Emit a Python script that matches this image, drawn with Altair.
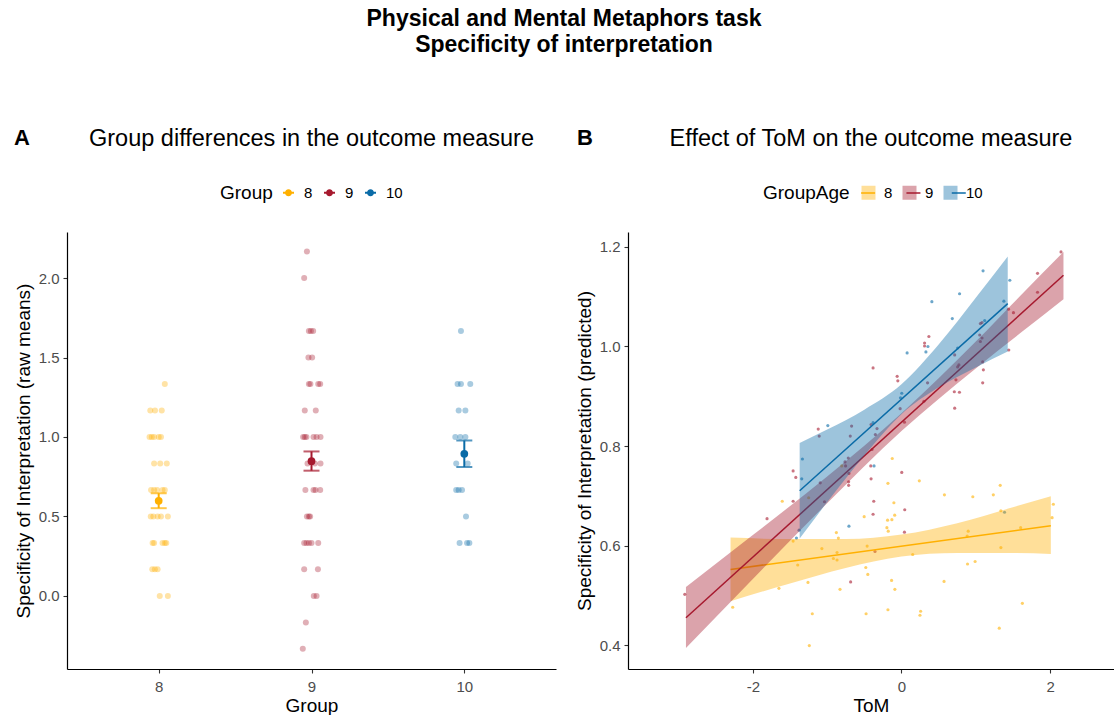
import altair as alt
import pandas as pd

FONT = "Liberation Sans"

# ---------------- shared group definitions ----------------
groups = ["8", "9", "10"]
group_colors = ["#FFB000", "#A6192E", "#0A6BA7"]

# ---------------- Panel A: raw scores (with horizontal jitter) ----------------
g8_scores = [1.333,
             1.167, 1.167, 1.167,
             1.0, 1.0, 1.0, 1.0, 1.0,
             0.833, 0.833, 0.833,
             0.667, 0.667, 0.667, 0.667, 0.667,
             0.5, 0.5, 0.5, 0.5, 0.5,
             0.333, 0.333, 0.333, 0.333, 0.333,
             0.167, 0.167, 0.167,
             0.0, 0.0]
g8_jitter = [0.04,
             -0.055, -0.024, 0.02,
             -0.06, -0.045, -0.03, 0.0, 0.015,
             -0.03, 0.01, 0.053,
             -0.05, -0.03, -0.01, 0.025, 0.04,
             -0.052, -0.035, -0.007, 0.015, 0.06,
             -0.04, -0.03, 0.025, 0.04, 0.05,
             -0.042, -0.025, -0.007,
             0.007, 0.06]

g9_scores = [2.167, 2.0,
             1.667, 1.667, 1.667,
             1.5, 1.5,
             1.333, 1.333, 1.333, 1.333,
             1.167, 1.167,
             1.0, 1.0, 1.0, 1.0, 1.0, 1.0,
             0.833, 0.833, 0.833,
             0.667, 0.667, 0.667, 0.667,
             0.5, 0.5, 0.5,
             0.333, 0.333, 0.333, 0.333, 0.333,
             0.167, 0.167,
             0.0, 0.0,
             -0.167, -0.333]
g9_jitter = [-0.03, -0.048,
             -0.017, -0.004, 0.011,
             -0.02, 0.004,
             -0.017, -0.007, 0.044, 0.057,
             -0.044, 0.028,
             -0.055, -0.044, -0.033, 0.013, 0.033, 0.059,
             -0.026, 0.022, 0.059,
             -0.04, 0.013, 0.026, 0.057,
             -0.03, -0.017, -0.009,
             -0.048, -0.033, -0.017, 0.0, 0.044,
             -0.048, 0.042,
             0.015, 0.033,
             -0.037, -0.057]

g10_scores = [1.667,
              1.333, 1.333, 1.333,
              1.167, 1.167,
              1.0, 1.0, 1.0,
              0.833, 0.833,
              0.667, 0.667, 0.667,
              0.5,
              0.333, 0.333, 0.333]
g10_jitter = [-0.022,
              -0.044, -0.022, 0.039,
              -0.037, 0.007,
              -0.059, -0.026, 0.007,
              -0.053, 0.022,
              -0.053, -0.037, -0.015,
              0.011,
              -0.031, 0.018, 0.033]

group_means = [0.598, 0.848, 0.894]
se_low = [0.552, 0.788, 0.811]
se_high = [0.646, 0.909, 0.978]

# ---------------- Panel B: ToM vs predicted specificity ----------------
tom8 = [-2.271, -1.604, -1.649, -1.258, -1.200, -1.240, -0.876, -0.849, -0.867,
        -0.916, -0.867, -0.827, -0.502, -0.462, -0.480, -0.453, -0.476, -0.182,
        -0.187, -0.196, -0.178, -0.182, -1.249, -1.458, -1.396, -1.071, -0.804,
        -0.124, 0.240, -0.102, -0.091, -0.129, 0.578, 0.960, 1.236, 1.329,
        1.338, 2.044, 2.027, 0.898, 0.884, 1.604, 1.338, 0.151, 0.889, 0.991,
        -0.133, -0.089, 0.573, 0.258, 0.249, 1.627, 1.316]
spec8 = [0.476, 0.689, 0.514, 0.526, 0.463, 0.399, 0.626, 0.615, 0.586,
         0.574, 0.571, 0.512, 0.658, 0.599, 0.556, 0.542, 0.463, 0.725,
         0.651, 0.636, 0.629, 0.471, 0.696, 0.609, 0.561, 0.594, 0.760,
         0.775, 0.730, 0.686, 0.661, 0.652, 0.702, 0.698, 0.702, 0.721,
         0.670, 0.683, 0.656, 0.629, 0.619, 0.636, 0.596, 0.582, 0.563, 0.568,
         0.530, 0.512, 0.528, 0.468, 0.460, 0.484, 0.434]

tom9 = [-2.916, -1.809, -1.458, -1.422, -1.458, -1.093, -1.036, -0.760, -0.752,
        -0.716, -0.707, -0.711, -0.711, -0.396, -0.413, -0.409, -0.373, -0.382,
        -0.684, -0.356, 0.004, 0.044, 0.040, -0.382, -1.120, -1.107, -0.671,
        -0.689, -0.409, -0.329, -0.351, 2.147, 1.831, 1.831, 1.440, 1.507,
        1.444, 0.369, 0.311, 0.311, 1.084, 1.062, 1.053, 1.084, 1.062, 0.716,
        0.773, 0.756, 1.093, 1.102, 1.093, 0.733, 0.351, 0.711, 0.780, 0.716,
        -0.058, -0.049, -0.018, 0.040, 0.302]
spec9 = [0.502, 0.654, 0.750, 0.737, 0.689, 0.726, 0.688, 0.768, 0.760,
         0.776, 0.745, 0.728, 0.721, 0.793, 0.760, 0.734, 0.689, 0.663,
         0.527, 0.588, 0.747, 0.672, 0.627, 0.957, 0.834, 0.820, 0.840,
         0.820, 0.843, 0.835, 0.823, 1.190, 1.147, 1.109, 1.075, 1.068,
         0.993, 1.020, 1.007, 1.001, 1.048, 1.046, 1.023, 1.017, 1.010, 0.983,
         0.963, 0.959, 0.969, 0.953, 0.927, 0.933, 0.927, 0.909, 0.908, 0.876,
         0.940, 0.931, 0.875, 0.848, 0.890]

tom10 = [-1.378, -1.413, -1.333, -1.342, -0.707, -0.369, 1.387, -0.991, -0.382,
         1.098, 1.458, 0.782, 0.409, 1.378, 0.684, 1.120, 0.356, 0.329, 0.076,
         0.756, 0.004, -0.013]
spec10 = [0.631, 0.615, 0.774, 0.734, 0.639, 0.760, 0.667, 0.841, 0.847,
          1.152, 1.133, 1.106, 1.090, 1.091, 1.056, 1.052, 1.000, 0.989, 0.987,
          0.997, 0.906, 0.897]

# fitted regression lines (end points) and their confidence bands
fit8_x, fit8_y = [-2.30, 2.01], [0.552, 0.640]
band8_x = [-2.30, -1.5, -0.75, 0.0, 0.75, 1.5, 2.01]
band8_lo = [0.488, 0.524, 0.555, 0.578, 0.585, 0.585, 0.583]
band8_hi = [0.616, 0.613, 0.613, 0.622, 0.645, 0.677, 0.699]

fit9_x, fit9_y = [-2.90, 2.18], [0.455, 1.143]
band9_x = [-2.90, -2.0, -1.0, 0.0, 1.0, 1.6, 2.18]
band9_lo = [0.394, 0.533, 0.685, 0.830, 0.956, 1.027, 1.095]
band9_hi = [0.517, 0.621, 0.739, 0.866, 1.010, 1.102, 1.190]

fit10_x, fit10_y = [-1.37, 1.43], [0.710, 1.086]
band10_x = [-1.37, -1.0, -0.5, 0.0, 0.5, 1.0, 1.43]
band10_lo = [0.614, 0.687, 0.781, 0.864, 0.918, 0.958, 0.990]
band10_hi = [0.806, 0.833, 0.873, 0.924, 1.004, 1.098, 1.181]

# ---------------- tables ----------------
raw = pd.concat([
    pd.DataFrame({"group": g, "idx": i, "score": s, "jit": j})
    for i, (g, s, j) in enumerate(zip(groups,
                                      [g8_scores, g9_scores, g10_scores],
                                      [g8_jitter, g9_jitter, g10_jitter]))
], ignore_index=True)

summary = pd.DataFrame({"group": groups, "idx": [0, 1, 2], "mean": group_means,
                        "lo": se_low, "hi": se_high})

tom_pts = pd.concat([
    pd.DataFrame({"grp": g, "tom": t, "spec": s})
    for g, t, s in zip(groups, [tom8, tom9, tom10], [spec8, spec9, spec10])
], ignore_index=True)

fits = {g: pd.DataFrame({"grp": g, "tom": fx, "spec": fy})
        for g, fx, fy in zip(groups, [fit8_x, fit9_x, fit10_x], [fit8_y, fit9_y, fit10_y])}
bands = {g: pd.DataFrame({"grp": g, "tom": bx, "lo": bl, "hi": bh})
         for g, bx, bl, bh in zip(groups, [band8_x, band9_x, band10_x],
                                  [band8_lo, band9_lo, band10_lo],
                                  [band8_hi, band9_hi, band10_hi])}

# ---------------- Panel A chart ----------------
pointrange_glyph = ("M-1,-0.18 L-0.6,-0.18 L-0.6,0.18 L-1,0.18 Z "
                    "M0.6,-0.18 L1,-0.18 L1,0.18 L0.6,0.18 Z "
                    "M-0.64,0 A0.64,0.64 0 1,1 0.64,0 A0.64,0.64 0 1,1 -0.64,0 Z")

legend_a = alt.Legend(title="Group", orient="none", legendX=153, legendY=-47,
                      direction="horizontal", titleOrient="left",
                      symbolType=pointrange_glyph, symbolSize=121, symbolOpacity=1,
                      symbolStrokeWidth=0, labelOffset=8, columnPadding=9,
                      titlePadding=8)
color_a = alt.Color("group:N", scale=alt.Scale(domain=groups, range=group_colors),
                    legend=legend_a)

label_expr = " : ".join(f"datum.value == {i} ? '{g}'" for i, g in enumerate(groups[:-1])) + f" : '{groups[-1]}'"
x_a = alt.X("pos:Q", scale=alt.Scale(domain=[-0.6, 2.6], nice=False, zero=False),
            axis=alt.Axis(values=[0, 1, 2], labelExpr=label_expr, title="Group"))
x_a_mean = alt.X("idx:Q", scale=alt.Scale(domain=[-0.6, 2.6], nice=False, zero=False),
                 axis=alt.Axis(values=[0, 1, 2], labelExpr=label_expr, title="Group"))
y_scale_a = alt.Scale(domain=[-0.46, 2.29], nice=False, zero=False)
y_axis_a = alt.Axis(values=[0, 0.5, 1, 1.5, 2], format=".1f",
                    title="Specificity of Interpretation (raw means)")

jitter_pts = alt.Chart(raw).transform_calculate(pos="datum.idx + datum.jit").mark_circle(
    size=36, opacity=0.35).encode(x=x_a, y=alt.Y("score:Q", scale=y_scale_a, axis=y_axis_a),
                                  color=color_a)

err_rule = alt.Chart(summary).mark_rule(strokeWidth=2).encode(
    x=x_a_mean, y=alt.Y("lo:Q", scale=y_scale_a, axis=y_axis_a), y2="hi:Q", color=color_a)
cap_lo = alt.Chart(summary).mark_tick(orient="horizontal", size=16, thickness=2).encode(
    x=x_a_mean, y=alt.Y("lo:Q", scale=y_scale_a, axis=y_axis_a), color=color_a)
cap_hi = alt.Chart(summary).mark_tick(orient="horizontal", size=16, thickness=2).encode(
    x=x_a_mean, y=alt.Y("hi:Q", scale=y_scale_a, axis=y_axis_a), color=color_a)
mean_pts = alt.Chart(summary).mark_circle(size=60, opacity=1).encode(
    x=x_a_mean, y=alt.Y("mean:Q", scale=y_scale_a, axis=y_axis_a), color=color_a)

tag_a = alt.Chart(pd.DataFrame({"t": ["A"]})).mark_text(
    fontSize=22, fontWeight="bold", align="left", baseline="middle", font=FONT,
    color="black").encode(text="t:N", x=alt.value(-53), y=alt.value(-94))

panel_a = alt.layer(jitter_pts, err_rule, cap_lo, cap_hi, mean_pts, tag_a).properties(
    width=489, height=437,
    title=alt.TitleParams("Group differences in the outcome measure", fontSize=23.5,
                          fontWeight="normal", anchor="middle", offset=-23))

# ---------------- Panel B chart ----------------
# band legend (title, squares, labels) with a label-less line legend laid over its keys;
# the keys carry invisible zero-width marks so that the two stay separate legends
fill_keys = [g + "\u200b" for g in groups]
stroke_keys = [g + "\u200b\u200b" for g in groups]

KEY = 14            # key width in px
LABEL_GAP = 8       # key -> label
ENTRY_GAP = 9       # label -> next key
DIGIT_W = 0.556 * 15  # width of a one-digit label at 15px
TITLE_W = 86.6      # width of "GroupAge" at 19px
TITLE_GAP = 11
LINE_W = 1.5        # the line keys are one pixel wider in the legend layout

legend_fill = alt.Legend(title="GroupAge", orient="none", legendX=135, legendY=-47,
                         direction="horizontal", titleOrient="left", symbolSize=KEY * KEY,
                         symbolType="square", symbolOpacity=0.4, symbolStrokeWidth=0,
                         labelOffset=LABEL_GAP, columnPadding=ENTRY_GAP, titlePadding=TITLE_GAP)
legend_stroke = alt.Legend(title=None, orient="none", legendX=135 + TITLE_W + TITLE_GAP,
                           legendY=-47, direction="horizontal", symbolSize=KEY * KEY,
                           symbolType="stroke", symbolStrokeWidth=LINE_W, symbolOpacity=1,
                           symbolOffset=-0.5, labelExpr="''", labelOffset=0,
                           columnPadding=LABEL_GAP + DIGIT_W + ENTRY_GAP - 1)
fill_b = alt.Fill("fkey:N", scale=alt.Scale(domain=fill_keys, range=group_colors),
                  legend=legend_fill)
stroke_b = alt.Stroke("skey:N", scale=alt.Scale(domain=stroke_keys, range=group_colors),
                      legend=legend_stroke)

x_scale_b = alt.Scale(domain=[-3.68, 2.86], nice=False, zero=False)
x_axis_b = alt.Axis(values=[-2, 0, 2], labelExpr="'' + datum.value", title="ToM")
y_scale_b = alt.Scale(domain=[0.352, 1.23], nice=False, zero=False)
y_axis_b = alt.Axis(values=[0.4, 0.6, 0.8, 1.0, 1.2], format=".1f",
                    title="Specificity of Interpretation (predicted)")

scatter_b = alt.Chart(tom_pts).transform_calculate(fkey="datum.grp + '\u200b'").mark_circle(
    size=10, opacity=0.6).encode(
    x=alt.X("tom:Q", scale=x_scale_b, axis=x_axis_b),
    y=alt.Y("spec:Q", scale=y_scale_b, axis=y_axis_b), fill=fill_b)

fit_layers = []
for g in groups:
    fit_layers.append(alt.Chart(bands[g]).transform_calculate(
        fkey="datum.grp + '\u200b'").mark_area(opacity=0.4, interpolate="monotone").encode(
        x=alt.X("tom:Q", scale=x_scale_b, axis=x_axis_b),
        y=alt.Y("lo:Q", scale=y_scale_b, axis=y_axis_b), y2="hi:Q", fill=fill_b))
    fit_layers.append(alt.Chart(fits[g]).transform_calculate(
        skey="datum.grp + '\u200b\u200b'").mark_line(strokeWidth=1.5).encode(
        x=alt.X("tom:Q", scale=x_scale_b, axis=x_axis_b),
        y=alt.Y("spec:Q", scale=y_scale_b, axis=y_axis_b), stroke=stroke_b))

tag_b = alt.Chart(pd.DataFrame({"t": ["B"]})).mark_text(
    fontSize=22, fontWeight="bold", align="left", baseline="middle", font=FONT,
    color="black").encode(text="t:N", x=alt.value(-51), y=alt.value(-94))

panel_b = alt.layer(scatter_b, *fit_layers, tag_b).properties(
    width=486, height=437,
    title=alt.TitleParams("Effect of ToM on the outcome measure", fontSize=23.5,
                          fontWeight="normal", anchor="middle", offset=-23))

# ---------------- assemble ----------------
chart = alt.hconcat(panel_a, panel_b, spacing=19).properties(
    title=alt.TitleParams(["Physical and Mental Metaphors task", "Specificity of interpretation"],
                          fontSize=23, fontWeight="bold", anchor="middle", lineHeight=26,
                          offset=70),
    padding={"left": 14, "top": 7, "right": 0, "bottom": 0},
).resolve_legend(color="independent", fill="independent", stroke="independent").configure(
    font=FONT).configure_view(stroke=None).configure_axis(
    grid=False, domainColor="black", domainWidth=1.2, tickColor="#333333", tickSize=4,
    tickWidth=1.1, labelColor="#4D4D4D", labelFontSize=15, labelFont=FONT,
    titleFontSize=19, titleFontWeight="normal", titleColor="black", titleFont=FONT,
    labelPadding=6, titlePadding=2,
).configure_axisY(labelPadding=4, titlePadding=5).configure_legend(
    titleFontSize=19, titleFontWeight="normal", titleColor="black", titleFont=FONT,
    labelFontSize=15, labelColor="black", labelFont=FONT,
).configure_title(font=FONT, color="black")

chart.save("out.html", embed_options={"renderer": "svg", "actions": False})
